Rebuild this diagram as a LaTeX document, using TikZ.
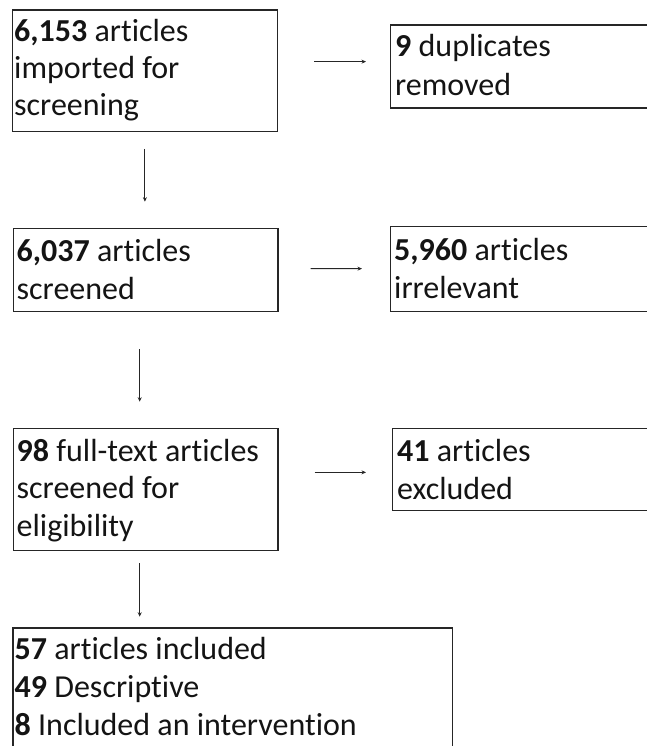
\documentclass[tikz,border=0pt]{standalone}
\usepackage{fontspec}
\setmainfont[Ligatures={NoCommon,NoRare,NoContextual}]{Carlito}
\usetikzlibrary{arrows.meta}
\begin{document}
\begin{tikzpicture}[x=1pt,y=-1pt,
  boxnode/.style={draw=black!85, line width=1.3pt, inner sep=0pt, anchor=north west},
  txt/.style={anchor=base west, inner sep=0pt, font=\fontsize{32}{37.5}\selectfont, text=black!92},
  arr/.style={line width=1pt, draw=black!85, -{Stealth[length=4.5pt,width=4pt]}}]
\useasboundingbox (0,0) rectangle (647,746);
\clip (0,0) rectangle (647,746);
% boxes
\node[boxnode, minimum width=264.5pt, minimum height=121.4pt] (b1) at (12,9.3) {};
\node[boxnode, minimum width=280pt, minimum height=83pt] (b2) at (390,24.3) {};
\node[boxnode, minimum width=264.5pt, minimum height=83pt] (b3) at (12.8,227.7) {};
\node[boxnode, minimum width=280pt, minimum height=84.7pt] (b4) at (390,226) {};
\node[boxnode, minimum width=264.5pt, minimum height=122.3pt] (b5) at (12.8,427.7) {};
\node[boxnode, minimum width=280pt, minimum height=82.3pt] (b6) at (391.7,427.7) {};
\node[boxnode, minimum width=439.4pt, minimum height=140pt] (b7) at (12.3,627.3) {};
% texts
\node[txt] (t1a) at (14,42) {\textbf{6,153} articles};
\node[txt] (t1b) at (14,79) {imported for};
\node[txt] (t1c) at (14,116) {screening};
\node[txt] (t2a) at (395,57) {\textbf{9} duplicates};
\node[txt] (t2b) at (395,95.5) {removed};
\node[txt] (t3a) at (16.5,261.7) {\textbf{6,037} articles};
\node[txt] (t3b) at (16.5,299) {screened};
\node[txt] (t4a) at (394,260) {\textbf{5,960} articles};
\node[txt] (t4b) at (394,298) {irrelevant};
\node[txt] (t5a) at (16.5,461) {\textbf{98} full-text articles};
\node[txt] (t5b) at (16.5,498) {screened for};
\node[txt] (t5c) at (16.5,536) {eligibility};
\node[txt] (t6a) at (397,461) {\textbf{41} articles};
\node[txt] (t6b) at (397,499) {excluded};
\node[txt] (t7a) at (14.5,659) {\textbf{57} articles included};
\node[txt] (t7b) at (14.5,697) {\textbf{49} Descriptive};
\node[txt] (t7c) at (14.5,735) {\textbf{8} Included an intervention};
% vertical arrows
\draw[arr, shorten <=17pt, shorten >=26pt] (b1.south) -- (b1.south |- b3.north);
\draw[arr, shorten <=37pt, shorten >=26pt] ([xshift=-6pt]b3.south) -- ([xshift=-6pt]b3.south |- b5.north);
\draw[arr, shorten <=11.7pt, shorten >=10.6pt] ([xshift=-6pt]b5.south) -- ([xshift=-6pt]b5.south |- b7.north);
% horizontal arrows
\draw[arr, shorten <=36.5pt, shorten >=24pt] ([yshift=9pt]b1.east) -- ([yshift=4.8pt]b2.west);
\draw[arr, shorten <=32pt, shorten >=28pt] ([yshift=1.2pt]b3.east) -- ([yshift=0.35pt]b4.west);
\draw[arr, shorten <=36pt, shorten >=25.7pt] ([yshift=17.15pt]b5.east) -- ([yshift=-2.85pt]b6.west);
\end{tikzpicture}
\end{document}
